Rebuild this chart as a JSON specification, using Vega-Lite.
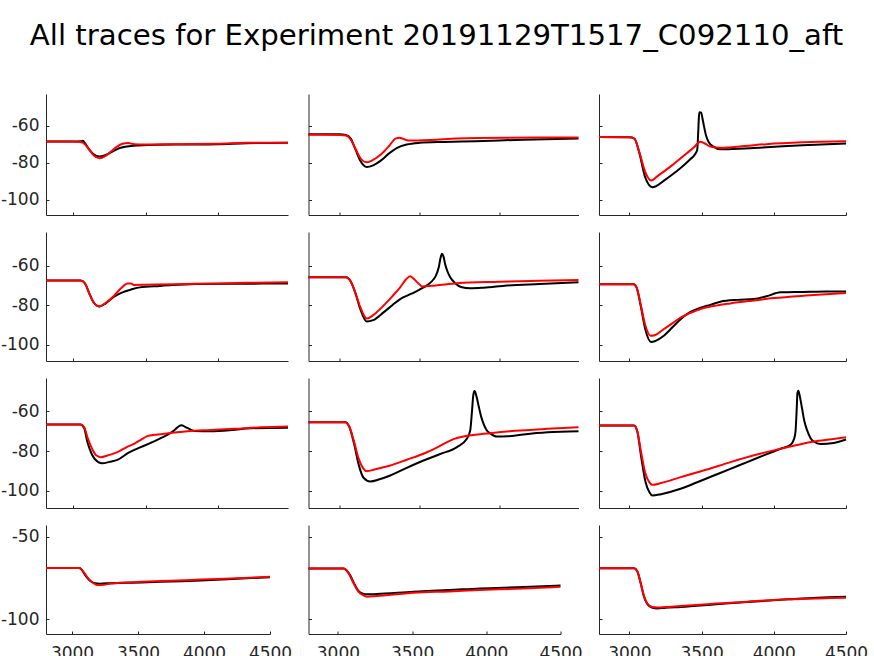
{
  "$schema": "https://vega.github.io/schema/vega-lite/v6.json",
  "padding": {"left": 0, "top": 21, "right": 0, "bottom": 0},
  "background": "#ffffff",
  "title": {"text": "All traces for Experiment 20191129T1517_C092110_aft", "fontSize": 29.2, "font": "DejaVu Sans", "fontWeight": "normal", "color": "#000000", "anchor": "middle", "offset": 43, "dx": 2.5},
  "config": {
    "view": {"stroke": null},
    "axis": {"grid": false, "domainColor": "#262626", "tickColor": "#262626", "labelColor": "#262626", "labelFont": "DejaVu Sans", "labelFontSize": 17, "tickSize": -3, "domainWidth": 1, "tickWidth": 1, "labelFlush": false, "labelOverlap": false, "labelExpr": "toString(datum.value)"},
    "line": {"strokeWidth": 2, "interpolate": "monotone"}
  },
  "datasets": {
    "r1c1": [
      {"t":"k","x":2810,"y":-68.6},{"t":"k","x":3000,"y":-68.6},{"t":"k","x":3050,"y":-68.5},{"t":"k","x":3065,"y":-68.2},{"t":"k","x":3080,"y":-69.5},{"t":"k","x":3110,"y":-73},{"t":"k","x":3140,"y":-75.5},{"t":"k","x":3180,"y":-76.7},{"t":"k","x":3220,"y":-76},{"t":"k","x":3260,"y":-74.5},{"t":"k","x":3300,"y":-72.8},{"t":"k","x":3350,"y":-71.6},{"t":"k","x":3400,"y":-71},{"t":"k","x":3450,"y":-70.7},{"t":"k","x":3600,"y":-70.3},{"t":"k","x":3800,"y":-70.2},{"t":"k","x":4000,"y":-70},{"t":"k","x":4200,"y":-69.5},{"t":"k","x":4488,"y":-69.2},
      {"t":"r","x":2810,"y":-68.6},{"t":"r","x":3000,"y":-68.6},{"t":"r","x":3050,"y":-68.8},{"t":"r","x":3080,"y":-70},{"t":"r","x":3110,"y":-73},{"t":"r","x":3140,"y":-76},{"t":"r","x":3180,"y":-77.6},{"t":"r","x":3220,"y":-76.5},{"t":"r","x":3260,"y":-74},{"t":"r","x":3300,"y":-71.5},{"t":"r","x":3340,"y":-69.8},{"t":"r","x":3380,"y":-69.4},{"t":"r","x":3420,"y":-70},{"t":"r","x":3500,"y":-70.2},{"t":"r","x":3700,"y":-70},{"t":"r","x":4000,"y":-69.8},{"t":"r","x":4200,"y":-69.3},{"t":"r","x":4488,"y":-69.2}
    ],
    "r1c2": [
      {"t":"k","x":2806,"y":-64.6},{"t":"k","x":3000,"y":-64.7},{"t":"k","x":3040,"y":-65},{"t":"k","x":3070,"y":-67},{"t":"k","x":3100,"y":-73},{"t":"k","x":3130,"y":-79},{"t":"k","x":3170,"y":-82.4},{"t":"k","x":3210,"y":-81.5},{"t":"k","x":3260,"y":-78.8},{"t":"k","x":3310,"y":-75},{"t":"k","x":3360,"y":-72},{"t":"k","x":3420,"y":-70.2},{"t":"k","x":3500,"y":-69.3},{"t":"k","x":3650,"y":-68.8},{"t":"k","x":3850,"y":-68.4},{"t":"k","x":4150,"y":-67.6},{"t":"k","x":4494,"y":-67},
      {"t":"r","x":2806,"y":-64.9},{"t":"r","x":3000,"y":-65},{"t":"r","x":3040,"y":-65.3},{"t":"r","x":3070,"y":-67.5},{"t":"r","x":3100,"y":-72.5},{"t":"r","x":3130,"y":-77.5},{"t":"r","x":3170,"y":-79.8},{"t":"r","x":3210,"y":-78.5},{"t":"r","x":3260,"y":-75.5},{"t":"r","x":3310,"y":-71},{"t":"r","x":3350,"y":-67},{"t":"r","x":3375,"y":-66.6},{"t":"r","x":3400,"y":-67.2},{"t":"r","x":3430,"y":-68},{"t":"r","x":3570,"y":-67.7},{"t":"r","x":3730,"y":-67},{"t":"r","x":4030,"y":-66.5},{"t":"r","x":4494,"y":-66.4}
    ],
    "r1c3": [
      {"t":"k","x":2790,"y":-66.2},{"t":"k","x":3000,"y":-66.3},{"t":"k","x":3035,"y":-67},{"t":"k","x":3070,"y":-75},{"t":"k","x":3110,"y":-88},{"t":"k","x":3160,"y":-93.3},{"t":"k","x":3240,"y":-89.7},{"t":"k","x":3300,"y":-86.3},{"t":"k","x":3355,"y":-82.9},{"t":"k","x":3420,"y":-78.3},{"t":"k","x":3455,"y":-75.5},{"t":"k","x":3470,"y":-73},{"t":"k","x":3476,"y":-65},{"t":"k","x":3482,"y":-55},{"t":"k","x":3486,"y":-52.8},{"t":"k","x":3498,"y":-53},{"t":"k","x":3506,"y":-56},{"t":"k","x":3516,"y":-60},{"t":"k","x":3530,"y":-65},{"t":"k","x":3550,"y":-69},{"t":"k","x":3580,"y":-71.2},{"t":"k","x":3630,"y":-72.8},{"t":"k","x":3800,"y":-72.3},{"t":"k","x":3950,"y":-71.7},{"t":"k","x":4200,"y":-70.6},{"t":"k","x":4500,"y":-69.6},
      {"t":"r","x":2790,"y":-66.2},{"t":"r","x":3000,"y":-66.3},{"t":"r","x":3035,"y":-67},{"t":"r","x":3070,"y":-74.5},{"t":"r","x":3110,"y":-85},{"t":"r","x":3150,"y":-89.7},{"t":"r","x":3200,"y":-87},{"t":"r","x":3300,"y":-81.2},{"t":"r","x":3400,"y":-74.8},{"t":"r","x":3450,"y":-71.5},{"t":"r","x":3490,"y":-68.7},{"t":"r","x":3520,"y":-69.5},{"t":"r","x":3560,"y":-71.3},{"t":"r","x":3630,"y":-72},{"t":"r","x":3800,"y":-71},{"t":"r","x":3950,"y":-70},{"t":"r","x":4200,"y":-69},{"t":"r","x":4500,"y":-68.5}
    ],
    "r2c1": [
      {"t":"k","x":2810,"y":-67.6},{"t":"k","x":3050,"y":-67.6},{"t":"k","x":3080,"y":-69},{"t":"k","x":3110,"y":-74},{"t":"k","x":3140,"y":-78.5},{"t":"k","x":3180,"y":-80.6},{"t":"k","x":3220,"y":-79.3},{"t":"k","x":3282,"y":-75.7},{"t":"k","x":3340,"y":-73.5},{"t":"k","x":3400,"y":-72.1},{"t":"k","x":3460,"y":-71},{"t":"k","x":3600,"y":-70.3},{"t":"k","x":3850,"y":-69.3},{"t":"k","x":4100,"y":-69.2},{"t":"k","x":4488,"y":-69},
      {"t":"r","x":2810,"y":-67.6},{"t":"r","x":3050,"y":-67.6},{"t":"r","x":3080,"y":-69},{"t":"r","x":3110,"y":-74},{"t":"r","x":3140,"y":-78.5},{"t":"r","x":3180,"y":-80.6},{"t":"r","x":3220,"y":-79},{"t":"r","x":3282,"y":-75.2},{"t":"r","x":3330,"y":-71.5},{"t":"r","x":3375,"y":-69},{"t":"r","x":3400,"y":-69.1},{"t":"r","x":3423,"y":-69.8},{"t":"r","x":3500,"y":-69.7},{"t":"r","x":3700,"y":-69.4},{"t":"r","x":4000,"y":-69},{"t":"r","x":4200,"y":-68.7},{"t":"r","x":4488,"y":-68.4}
    ],
    "r2c2": [
      {"t":"k","x":2806,"y":-65.9},{"t":"k","x":3040,"y":-65.9},{"t":"k","x":3070,"y":-68},{"t":"k","x":3100,"y":-74},{"t":"k","x":3130,"y":-82},{"t":"k","x":3170,"y":-88.2},{"t":"k","x":3210,"y":-87.5},{"t":"k","x":3275,"y":-83.6},{"t":"k","x":3330,"y":-80},{"t":"k","x":3379,"y":-76.9},{"t":"k","x":3450,"y":-74.2},{"t":"k","x":3525,"y":-71},{"t":"k","x":3570,"y":-68.5},{"t":"k","x":3600,"y":-65.5},{"t":"k","x":3620,"y":-61},{"t":"k","x":3632,"y":-56},{"t":"k","x":3640,"y":-54.1},{"t":"k","x":3650,"y":-55.5},{"t":"k","x":3660,"y":-59.2},{"t":"k","x":3675,"y":-63},{"t":"k","x":3692,"y":-65.9},{"t":"k","x":3723,"y":-68.9},{"t":"k","x":3760,"y":-70.8},{"t":"k","x":3817,"y":-71.5},{"t":"k","x":3900,"y":-71.2},{"t":"k","x":4046,"y":-70.1},{"t":"k","x":4250,"y":-69.3},{"t":"k","x":4494,"y":-68.4},
      {"t":"r","x":2806,"y":-65.9},{"t":"r","x":3040,"y":-65.9},{"t":"r","x":3070,"y":-68},{"t":"r","x":3100,"y":-74},{"t":"r","x":3130,"y":-81},{"t":"r","x":3171,"y":-86.7},{"t":"r","x":3210,"y":-85},{"t":"r","x":3275,"y":-80.2},{"t":"r","x":3330,"y":-75.5},{"t":"r","x":3379,"y":-71},{"t":"r","x":3415,"y":-67},{"t":"r","x":3442,"y":-65.4},{"t":"r","x":3470,"y":-67.2},{"t":"r","x":3500,"y":-69.5},{"t":"r","x":3515,"y":-70.5},{"t":"r","x":3600,"y":-70},{"t":"r","x":3734,"y":-68.9},{"t":"r","x":4000,"y":-68.2},{"t":"r","x":4250,"y":-67.7},{"t":"r","x":4494,"y":-67.3}
    ],
    "r2c3": [
      {"t":"k","x":2790,"y":-69.4},{"t":"k","x":3030,"y":-69.4},{"t":"k","x":3050,"y":-71},{"t":"k","x":3078,"y":-80},{"t":"k","x":3110,"y":-92},{"t":"k","x":3150,"y":-98.5},{"t":"k","x":3180,"y":-98},{"t":"k","x":3239,"y":-95.4},{"t":"k","x":3300,"y":-91},{"t":"k","x":3355,"y":-87},{"t":"k","x":3420,"y":-83.5},{"t":"k","x":3493,"y":-81.3},{"t":"k","x":3560,"y":-79.8},{"t":"k","x":3631,"y":-78.2},{"t":"k","x":3750,"y":-77.3},{"t":"k","x":3862,"y":-76.9},{"t":"k","x":3950,"y":-75.5},{"t":"k","x":4046,"y":-73.5},{"t":"k","x":4200,"y":-73.3},{"t":"k","x":4363,"y":-73.1},{"t":"k","x":4500,"y":-73.1},
      {"t":"r","x":2790,"y":-69.4},{"t":"r","x":3030,"y":-69.4},{"t":"r","x":3050,"y":-71},{"t":"r","x":3078,"y":-79.4},{"t":"r","x":3110,"y":-90},{"t":"r","x":3147,"y":-95.4},{"t":"r","x":3180,"y":-95},{"t":"r","x":3239,"y":-92},{"t":"r","x":3300,"y":-89},{"t":"r","x":3355,"y":-86.2},{"t":"r","x":3420,"y":-84},{"t":"r","x":3493,"y":-81.9},{"t":"r","x":3600,"y":-80.2},{"t":"r","x":3700,"y":-79.1},{"t":"r","x":3850,"y":-77.7},{"t":"r","x":4000,"y":-76.4},{"t":"r","x":4250,"y":-75},{"t":"r","x":4500,"y":-73.8}
    ],
    "r3c1": [
      {"t":"k","x":2810,"y":-66.6},{"t":"k","x":3050,"y":-66.6},{"t":"k","x":3075,"y":-68.5},{"t":"k","x":3097,"y":-75.5},{"t":"k","x":3130,"y":-82},{"t":"k","x":3170,"y":-85.5},{"t":"k","x":3201,"y":-86.2},{"t":"k","x":3250,"y":-85.5},{"t":"k","x":3305,"y":-84.5},{"t":"k","x":3380,"y":-81},{"t":"k","x":3467,"y":-78},{"t":"k","x":3540,"y":-75.8},{"t":"k","x":3606,"y":-73.5},{"t":"k","x":3660,"y":-71.5},{"t":"k","x":3700,"y":-69.5},{"t":"k","x":3730,"y":-67.5},{"t":"k","x":3750,"y":-67},{"t":"k","x":3775,"y":-67.8},{"t":"k","x":3803,"y":-68.8},{"t":"k","x":3838,"y":-69.9},{"t":"k","x":3950,"y":-70},{"t":"k","x":4100,"y":-69.4},{"t":"k","x":4230,"y":-68.5},{"t":"k","x":4488,"y":-68.2},
      {"t":"r","x":2810,"y":-66.6},{"t":"r","x":3050,"y":-66.6},{"t":"r","x":3075,"y":-68},{"t":"r","x":3097,"y":-73},{"t":"r","x":3130,"y":-79},{"t":"r","x":3160,"y":-82.3},{"t":"r","x":3189,"y":-83.1},{"t":"r","x":3240,"y":-82.2},{"t":"r","x":3305,"y":-80.6},{"t":"r","x":3370,"y":-78},{"t":"r","x":3420,"y":-76.4},{"t":"r","x":3470,"y":-74.2},{"t":"r","x":3513,"y":-72.5},{"t":"r","x":3560,"y":-71.8},{"t":"r","x":3606,"y":-71.5},{"t":"r","x":3700,"y":-70.7},{"t":"r","x":3791,"y":-70},{"t":"r","x":3950,"y":-69.4},{"t":"r","x":4115,"y":-68.8},{"t":"r","x":4300,"y":-68},{"t":"r","x":4488,"y":-67.6}
    ],
    "r3c2": [
      {"t":"k","x":2806,"y":-65.4},{"t":"k","x":3036,"y":-65.4},{"t":"k","x":3060,"y":-67.5},{"t":"k","x":3090,"y":-76},{"t":"k","x":3120,"y":-87},{"t":"k","x":3150,"y":-93.5},{"t":"k","x":3192,"y":-95.4},{"t":"k","x":3250,"y":-94.3},{"t":"k","x":3317,"y":-92.4},{"t":"k","x":3420,"y":-88.5},{"t":"k","x":3525,"y":-84.8},{"t":"k","x":3630,"y":-81.5},{"t":"k","x":3734,"y":-78},{"t":"k","x":3796,"y":-73.8},{"t":"k","x":3817,"y":-69.6},{"t":"k","x":3828,"y":-60},{"t":"k","x":3836,"y":-52},{"t":"k","x":3844,"y":-49.7},{"t":"k","x":3855,"y":-52},{"t":"k","x":3869,"y":-57},{"t":"k","x":3885,"y":-62.5},{"t":"k","x":3900,"y":-66.2},{"t":"k","x":3920,"y":-69.5},{"t":"k","x":3942,"y":-71.1},{"t":"k","x":3984,"y":-72.7},{"t":"k","x":4050,"y":-72.6},{"t":"k","x":4150,"y":-71.6},{"t":"k","x":4300,"y":-70.5},{"t":"k","x":4494,"y":-70},
      {"t":"r","x":2806,"y":-65.4},{"t":"r","x":3036,"y":-65.4},{"t":"r","x":3060,"y":-67.5},{"t":"r","x":3090,"y":-75},{"t":"r","x":3120,"y":-84},{"t":"r","x":3150,"y":-89},{"t":"r","x":3171,"y":-90.2},{"t":"r","x":3220,"y":-89.3},{"t":"r","x":3317,"y":-87.3},{"t":"r","x":3420,"y":-84.4},{"t":"r","x":3525,"y":-81.4},{"t":"r","x":3620,"y":-77.8},{"t":"r","x":3713,"y":-74},{"t":"r","x":3775,"y":-72.7},{"t":"r","x":3850,"y":-71.8},{"t":"r","x":3942,"y":-71},{"t":"r","x":4100,"y":-69.8},{"t":"r","x":4300,"y":-68.8},{"t":"r","x":4494,"y":-68}
    ],
    "r3c3": [
      {"t":"k","x":2790,"y":-67.1},{"t":"k","x":3032,"y":-67.1},{"t":"k","x":3055,"y":-70},{"t":"k","x":3080,"y":-82},{"t":"k","x":3110,"y":-95},{"t":"k","x":3140,"y":-101},{"t":"k","x":3159,"y":-102.5},{"t":"k","x":3220,"y":-101.8},{"t":"k","x":3355,"y":-99.1},{"t":"k","x":3470,"y":-95.8},{"t":"k","x":3585,"y":-92.4},{"t":"k","x":3700,"y":-89},{"t":"k","x":3816,"y":-85.6},{"t":"k","x":3930,"y":-82.2},{"t":"k","x":4046,"y":-78.9},{"t":"k","x":4116,"y":-76.9},{"t":"k","x":4140,"y":-74},{"t":"k","x":4150,"y":-70.5},{"t":"k","x":4158,"y":-60},{"t":"k","x":4164,"y":-50.5},{"t":"k","x":4170,"y":-49.5},{"t":"k","x":4182,"y":-53},{"t":"k","x":4196,"y":-58.6},{"t":"k","x":4212,"y":-65},{"t":"k","x":4231,"y":-69.6},{"t":"k","x":4255,"y":-73.5},{"t":"k","x":4277,"y":-75.2},{"t":"k","x":4323,"y":-76.4},{"t":"k","x":4415,"y":-75.9},{"t":"k","x":4500,"y":-74.2},
      {"t":"r","x":2790,"y":-67.1},{"t":"r","x":3032,"y":-67.1},{"t":"r","x":3055,"y":-70},{"t":"r","x":3080,"y":-80},{"t":"r","x":3110,"y":-91},{"t":"r","x":3140,"y":-96},{"t":"r","x":3159,"y":-97.1},{"t":"r","x":3220,"y":-96.2},{"t":"r","x":3355,"y":-93.2},{"t":"r","x":3530,"y":-89.5},{"t":"r","x":3700,"y":-85.6},{"t":"r","x":3870,"y":-82},{"t":"r","x":4046,"y":-78.9},{"t":"r","x":4160,"y":-77},{"t":"r","x":4277,"y":-75.2},{"t":"r","x":4400,"y":-74},{"t":"r","x":4500,"y":-73}
    ],
    "r4c1": [
      {"t":"k","x":2803,"y":-69},{"t":"k","x":3055,"y":-69},{"t":"k","x":3075,"y":-70.2},{"t":"k","x":3093,"y":-72.5},{"t":"k","x":3120,"y":-75.5},{"t":"k","x":3144,"y":-77.2},{"t":"k","x":3175,"y":-78.2},{"t":"k","x":3210,"y":-78.5},{"t":"k","x":3295,"y":-78.2},{"t":"k","x":3523,"y":-77.8},{"t":"k","x":3750,"y":-77.2},{"t":"k","x":3977,"y":-76.6},{"t":"k","x":4250,"y":-75.5},{"t":"k","x":4500,"y":-74.6},
      {"t":"r","x":2803,"y":-69},{"t":"r","x":3055,"y":-69},{"t":"r","x":3075,"y":-70.2},{"t":"r","x":3093,"y":-72},{"t":"r","x":3120,"y":-75},{"t":"r","x":3144,"y":-77},{"t":"r","x":3175,"y":-78.8},{"t":"r","x":3195,"y":-79.4},{"t":"r","x":3240,"y":-79.2},{"t":"r","x":3295,"y":-78.4},{"t":"r","x":3523,"y":-77.4},{"t":"r","x":3750,"y":-76.7},{"t":"r","x":3977,"y":-76},{"t":"r","x":4250,"y":-75.2},{"t":"r","x":4500,"y":-74.4}
    ],
    "r4c2": [
      {"t":"k","x":2802,"y":-69.4},{"t":"k","x":3038,"y":-69.4},{"t":"k","x":3060,"y":-70.5},{"t":"k","x":3083,"y":-73.5},{"t":"k","x":3110,"y":-78.5},{"t":"k","x":3140,"y":-83},{"t":"k","x":3170,"y":-84.6},{"t":"k","x":3195,"y":-85},{"t":"k","x":3260,"y":-84.8},{"t":"k","x":3509,"y":-83.4},{"t":"k","x":3750,"y":-82.4},{"t":"k","x":3958,"y":-81.4},{"t":"k","x":4250,"y":-80.6},{"t":"k","x":4500,"y":-79.6},
      {"t":"r","x":2802,"y":-69.4},{"t":"r","x":3038,"y":-69.4},{"t":"r","x":3060,"y":-70.7},{"t":"r","x":3083,"y":-74},{"t":"r","x":3110,"y":-79},{"t":"r","x":3140,"y":-83.5},{"t":"r","x":3170,"y":-85.5},{"t":"r","x":3195,"y":-86.4},{"t":"r","x":3260,"y":-86},{"t":"r","x":3509,"y":-84},{"t":"r","x":3750,"y":-83.2},{"t":"r","x":3958,"y":-82.4},{"t":"r","x":4250,"y":-81.4},{"t":"r","x":4500,"y":-80.4}
    ],
    "r4c3": [
      {"t":"k","x":2790,"y":-69.2},{"t":"k","x":3032,"y":-69.2},{"t":"k","x":3055,"y":-71},{"t":"k","x":3078,"y":-78},{"t":"k","x":3100,"y":-86},{"t":"k","x":3125,"y":-91},{"t":"k","x":3160,"y":-93.2},{"t":"k","x":3194,"y":-93.6},{"t":"k","x":3250,"y":-93.1},{"t":"k","x":3355,"y":-92.6},{"t":"k","x":3600,"y":-91},{"t":"k","x":3816,"y":-89.6},{"t":"k","x":4100,"y":-88},{"t":"k","x":4300,"y":-87},{"t":"k","x":4500,"y":-86.4},
      {"t":"r","x":2790,"y":-69.2},{"t":"r","x":3032,"y":-69.2},{"t":"r","x":3055,"y":-71},{"t":"r","x":3078,"y":-78},{"t":"r","x":3100,"y":-85.5},{"t":"r","x":3125,"y":-90.5},{"t":"r","x":3160,"y":-92.7},{"t":"r","x":3194,"y":-93},{"t":"r","x":3250,"y":-92.7},{"t":"r","x":3355,"y":-92},{"t":"r","x":3600,"y":-90.6},{"t":"r","x":3816,"y":-89.4},{"t":"r","x":4100,"y":-88},{"t":"r","x":4300,"y":-87.5},{"t":"r","x":4500,"y":-87}
    ]
  },
  "spacing": 16,
  "vconcat": [
    {
      "bounds": "flush", "spacing": 20.5,
      "hconcat": [
        {"width": 242, "height": 121, "data": {"name": "r1c1"}, "mark": "line",
         "encoding": {
           "x": {"field": "x", "type": "quantitative", "scale": {"domain": [2810, 4488], "nice": false, "zero": false}, "axis": {"values": [3000, 3500, 4000, 4500], "labels": false, "title": null}},
           "y": {"field": "y", "type": "quantitative", "scale": {"domain": [-108.3, -42.9], "nice": false, "zero": false}, "axis": {"values": [-100, -80, -60], "title": null, "labelPadding": 10}},
           "color": {"field": "t", "type": "nominal", "scale": {"domain": ["k", "r"], "range": ["#000000", "#ff0000"]}, "legend": null}}},
        {"width": 270, "height": 121, "data": {"name": "r1c2"}, "mark": "line",
         "encoding": {
           "x": {"field": "x", "type": "quantitative", "scale": {"domain": [2806, 4494], "nice": false, "zero": false}, "axis": {"values": [3000, 3500, 4000, 4500], "labels": false, "title": null}},
           "y": {"field": "y", "type": "quantitative", "scale": {"domain": [-108.3, -42.9], "nice": false, "zero": false}, "axis": {"values": [-100, -80, -60], "labels": false, "title": null}},
           "color": {"field": "t", "type": "nominal", "scale": {"domain": ["k", "r"], "range": ["#000000", "#ff0000"]}, "legend": null}}},
        {"width": 247, "height": 121, "data": {"name": "r1c3"}, "mark": "line",
         "encoding": {
           "x": {"field": "x", "type": "quantitative", "scale": {"domain": [2790, 4500], "nice": false, "zero": false}, "axis": {"values": [3000, 3500, 4000, 4500], "labels": false, "title": null}},
           "y": {"field": "y", "type": "quantitative", "scale": {"domain": [-108.3, -42.9], "nice": false, "zero": false}, "axis": {"values": [-100, -80, -60], "labels": false, "title": null}},
           "color": {"field": "t", "type": "nominal", "scale": {"domain": ["k", "r"], "range": ["#000000", "#ff0000"]}, "legend": null}}}
      ]
    },
    {
      "bounds": "flush", "spacing": 20.5,
      "hconcat": [
        {"width": 242, "height": 129, "data": {"name": "r2c1"}, "mark": "line",
         "encoding": {
           "x": {"field": "x", "type": "quantitative", "scale": {"domain": [2810, 4488], "nice": false, "zero": false}, "axis": {"values": [3000, 3500, 4000, 4500], "labels": false, "title": null}},
           "y": {"field": "y", "type": "quantitative", "scale": {"domain": [-108.1, -43.1], "nice": false, "zero": false}, "axis": {"values": [-100, -80, -60], "title": null, "labelPadding": 10}},
           "color": {"field": "t", "type": "nominal", "scale": {"domain": ["k", "r"], "range": ["#000000", "#ff0000"]}, "legend": null}}},
        {"width": 270, "height": 129, "data": {"name": "r2c2"}, "mark": "line",
         "encoding": {
           "x": {"field": "x", "type": "quantitative", "scale": {"domain": [2806, 4494], "nice": false, "zero": false}, "axis": {"values": [3000, 3500, 4000, 4500], "labels": false, "title": null}},
           "y": {"field": "y", "type": "quantitative", "scale": {"domain": [-108.1, -43.1], "nice": false, "zero": false}, "axis": {"values": [-100, -80, -60], "labels": false, "title": null}},
           "color": {"field": "t", "type": "nominal", "scale": {"domain": ["k", "r"], "range": ["#000000", "#ff0000"]}, "legend": null}}},
        {"width": 247, "height": 129, "data": {"name": "r2c3"}, "mark": "line",
         "encoding": {
           "x": {"field": "x", "type": "quantitative", "scale": {"domain": [2790, 4500], "nice": false, "zero": false}, "axis": {"values": [3000, 3500, 4000, 4500], "labels": false, "title": null}},
           "y": {"field": "y", "type": "quantitative", "scale": {"domain": [-108.1, -43.1], "nice": false, "zero": false}, "axis": {"values": [-100, -80, -60], "labels": false, "title": null}},
           "color": {"field": "t", "type": "nominal", "scale": {"domain": ["k", "r"], "range": ["#000000", "#ff0000"]}, "legend": null}}}
      ]
    },
    {
      "bounds": "flush", "spacing": 20.5,
      "hconcat": [
        {"width": 242, "height": 130, "data": {"name": "r3c1"}, "mark": "line",
         "encoding": {
           "x": {"field": "x", "type": "quantitative", "scale": {"domain": [2810, 4488], "nice": false, "zero": false}, "axis": {"values": [3000, 3500, 4000, 4500], "labels": false, "title": null}},
           "y": {"field": "y", "type": "quantitative", "scale": {"domain": [-108.8, -43.1], "nice": false, "zero": false}, "axis": {"values": [-100, -80, -60], "title": null, "labelPadding": 10}},
           "color": {"field": "t", "type": "nominal", "scale": {"domain": ["k", "r"], "range": ["#000000", "#ff0000"]}, "legend": null}}},
        {"width": 270, "height": 130, "data": {"name": "r3c2"}, "mark": "line",
         "encoding": {
           "x": {"field": "x", "type": "quantitative", "scale": {"domain": [2806, 4494], "nice": false, "zero": false}, "axis": {"values": [3000, 3500, 4000, 4500], "labels": false, "title": null}},
           "y": {"field": "y", "type": "quantitative", "scale": {"domain": [-108.8, -43.1], "nice": false, "zero": false}, "axis": {"values": [-100, -80, -60], "labels": false, "title": null}},
           "color": {"field": "t", "type": "nominal", "scale": {"domain": ["k", "r"], "range": ["#000000", "#ff0000"]}, "legend": null}}},
        {"width": 247, "height": 130, "data": {"name": "r3c3"}, "mark": "line",
         "encoding": {
           "x": {"field": "x", "type": "quantitative", "scale": {"domain": [2790, 4500], "nice": false, "zero": false}, "axis": {"values": [3000, 3500, 4000, 4500], "labels": false, "title": null}},
           "y": {"field": "y", "type": "quantitative", "scale": {"domain": [-108.8, -43.1], "nice": false, "zero": false}, "axis": {"values": [-100, -80, -60], "labels": false, "title": null}},
           "color": {"field": "t", "type": "nominal", "scale": {"domain": ["k", "r"], "range": ["#000000", "#ff0000"]}, "legend": null}}}
      ]
    },
    {
      "bounds": "flush", "spacing": 38.5,
      "hconcat": [
        {"width": 224, "height": 109, "data": {"name": "r4c1"}, "mark": "line",
         "encoding": {
           "x": {"field": "x", "type": "quantitative", "scale": {"domain": [2803, 4500], "nice": false, "zero": false}, "axis": {"values": [3000, 3500, 4000, 4500], "title": null, "labelPadding": 14}},
           "y": {"field": "y", "type": "quantitative", "scale": {"domain": [-109, -43], "nice": false, "zero": false}, "axis": {"values": [-100, -50], "title": null, "labelPadding": 10}},
           "color": {"field": "t", "type": "nominal", "scale": {"domain": ["k", "r"], "range": ["#000000", "#ff0000"]}, "legend": null}}},
        {"width": 252, "height": 109, "data": {"name": "r4c2"}, "mark": "line",
         "encoding": {
           "x": {"field": "x", "type": "quantitative", "scale": {"domain": [2802, 4500], "nice": false, "zero": false}, "axis": {"values": [3000, 3500, 4000, 4500], "title": null, "labelPadding": 14}},
           "y": {"field": "y", "type": "quantitative", "scale": {"domain": [-109, -43], "nice": false, "zero": false}, "axis": {"values": [-100, -50], "labels": false, "title": null}},
           "color": {"field": "t", "type": "nominal", "scale": {"domain": ["k", "r"], "range": ["#000000", "#ff0000"]}, "legend": null}}},
        {"width": 247, "height": 109, "data": {"name": "r4c3"}, "mark": "line",
         "encoding": {
           "x": {"field": "x", "type": "quantitative", "scale": {"domain": [2790, 4500], "nice": false, "zero": false}, "axis": {"values": [3000, 3500, 4000, 4500], "title": null, "labelPadding": 14}},
           "y": {"field": "y", "type": "quantitative", "scale": {"domain": [-109, -43], "nice": false, "zero": false}, "axis": {"values": [-100, -50], "labels": false, "title": null}},
           "color": {"field": "t", "type": "nominal", "scale": {"domain": ["k", "r"], "range": ["#000000", "#ff0000"]}, "legend": null}}}
      ]
    }
  ]
}
